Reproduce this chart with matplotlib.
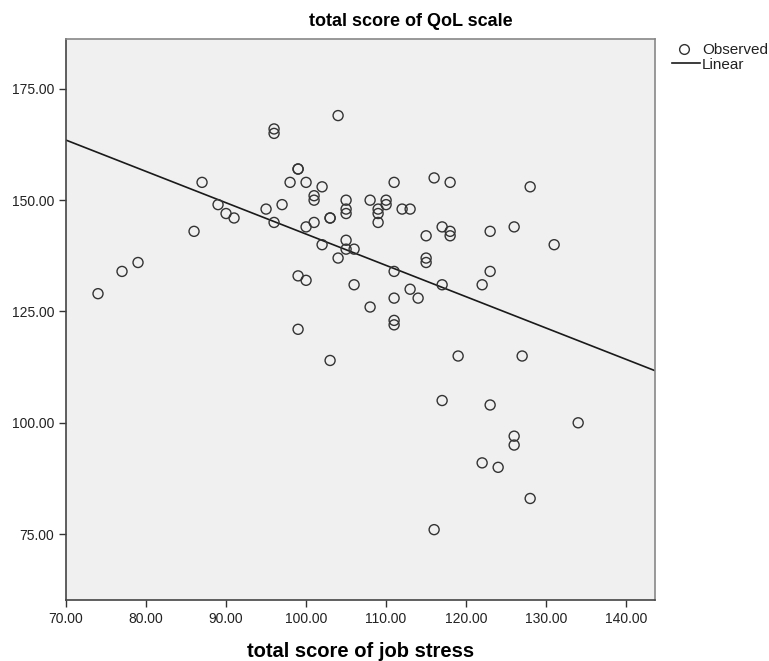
import numpy as np
import matplotlib
matplotlib.use('Agg')
import matplotlib.pyplot as plt
from matplotlib.ticker import FormatStrFormatter
from matplotlib.lines import Line2D

plt.rcParams['font.family'] = ['Liberation Sans', 'DejaVu Sans']

# total score of job stress (x) / total score of QoL scale (y)
job_stress = [74, 77, 79, 86, 87, 89, 90, 91, 95, 96,
              96, 96, 97, 98, 99, 99, 100, 99, 100, 99,
              100, 101, 101, 101, 102, 102, 103, 103, 104, 104,
              105, 105, 105, 105, 105, 106, 106, 103, 108, 108,
              109, 109, 109, 110, 110, 111, 111, 111, 111, 111,
              112, 113, 113, 114, 115, 115, 115, 116, 117, 117,
              118, 118, 118, 122, 123, 123, 126, 128, 131, 119,
              127, 117, 123, 134, 126, 126, 122, 124, 128, 116]
qol_score = [129, 134, 136, 143, 154, 149, 147, 146, 148, 145,
             166, 165, 149, 154, 157, 157, 154, 133, 132, 121,
             144, 145, 151, 150, 153, 140, 146, 146, 169, 137,
             150, 148, 147, 141, 139, 139, 131, 114, 150, 126,
             148, 147, 145, 150, 149, 154, 134, 128, 123, 122,
             148, 148, 130, 128, 142, 137, 136, 155, 144, 131,
             154, 143, 142, 131, 143, 134, 144, 153, 140, 115,
             115, 105, 104, 100, 97, 95, 91, 90, 83, 76]

x_ticks = [70, 80, 90, 100, 110, 120, 130, 140]
y_ticks = [75, 100, 125, 150, 175]

x = np.array(job_stress, dtype=float)
y = np.array(qol_score, dtype=float)
slope, intercept = np.polyfit(x, y, 1)

W, H = 769, 661
fig = plt.figure(figsize=(W / 100, H / 100), dpi=100)
ax = fig.add_axes([66 / W, 61 / H, 589 / W, 561 / H])
ax.set_facecolor('#f0f0f0')

xlim = (70, 143.6)
ylim = (60.2, 186.2)
ax.set_xlim(*xlim)
ax.set_ylim(*ylim)

ax.scatter(x, y, s=52, facecolors='none', edgecolors='#333333',
           linewidths=1.0, zorder=3)
lx = np.array(xlim)
ax.plot(lx, intercept + slope * lx, color='#1a1a1a', lw=1.2, zorder=2)

ax.set_xticks(x_ticks)
ax.set_yticks(y_ticks)
ax.xaxis.set_major_formatter(FormatStrFormatter('%.2f'))
ax.yaxis.set_major_formatter(FormatStrFormatter('%.2f'))
ax.tick_params(direction='out', length=5, width=1, colors='#333333',
               labelsize=10, labelcolor='#222222')
for side in ['left', 'bottom']:
    ax.spines[side].set_color('#444444')
    ax.spines[side].set_linewidth(1.2)
for side in ['top', 'right']:
    ax.spines[side].set_color('#888888')
    ax.spines[side].set_linewidth(1.2)

ax.set_xlabel('total score of job stress', fontsize=14.5, fontweight='bold',
              labelpad=12)
fig.text(411 / W, 1 - 22 / H, 'total score of QoL scale', fontsize=13,
         fontweight='bold', ha='center', va='center')

# legend drawn by hand, in figure pixels
fig.add_artist(Line2D([684 / W], [1 - 49 / H], ls='none', marker='o',
                      mfc='none', mec='#333333', ms=7, mew=1.0,
                      transform=fig.transFigure))
fig.add_artist(Line2D([672 / W, 700 / W], [1 - 63 / H, 1 - 63 / H],
                      color='#1a1a1a', lw=1.2, transform=fig.transFigure))
fig.text(702 / W, 1 - 50 / H, 'Observed', fontsize=11, va='center',
         color='#222222')
fig.text(702 / W, 1 - 65 / H, 'Linear', fontsize=11, va='center',
         color='#222222')

fig.savefig('out.png', dpi=100)
